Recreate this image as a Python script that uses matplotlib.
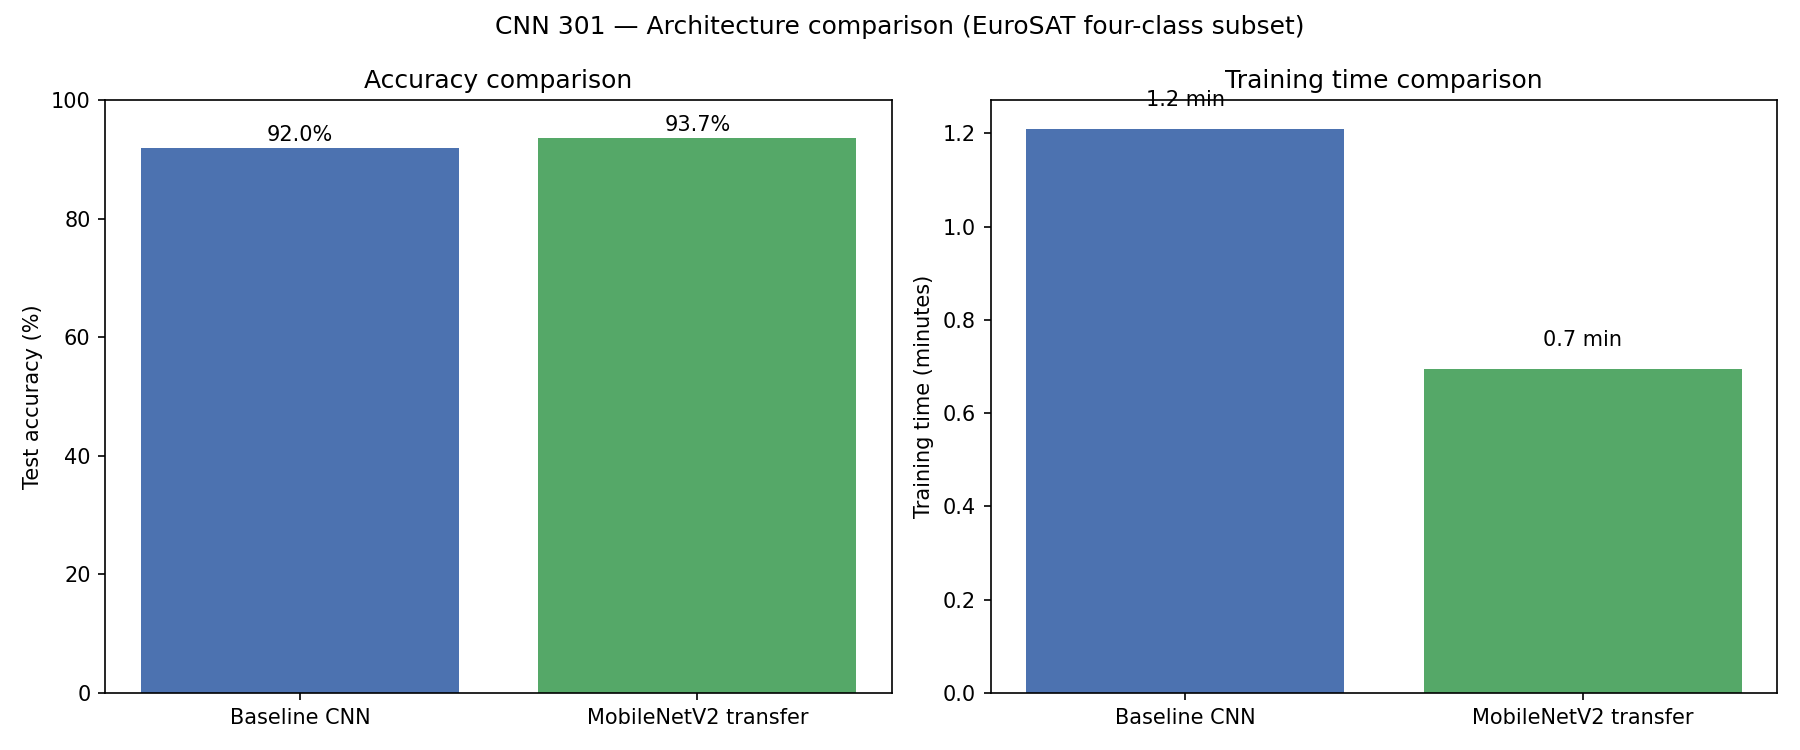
import matplotlib
matplotlib.use("Agg")
import matplotlib.pyplot as plt

# Results from the two runs
models = ["Baseline CNN", "MobileNetV2 transfer"]
accuracy = [92.0, 93.7]
train_minutes = [1.21, 0.695]
colors = ["#4C72B0", "#55A868"]

fig, (ax1, ax2) = plt.subplots(1, 2, figsize=(12, 5), dpi=150)

# Accuracy panel
bars = ax1.bar(models, accuracy, color=colors)
ax1.set_ylim(0, 100)
ax1.set_ylabel("Test accuracy (%)")
ax1.set_title("Accuracy comparison")
for b, v in zip(bars, accuracy):
    ax1.text(b.get_x() + b.get_width() / 2, v + 0.5, f"{v:.1f}%", ha="center", va="bottom")

# Training time panel
bars = ax2.bar(models, train_minutes, color=colors)
ax2.set_ylabel("Training time (minutes)")
ax2.set_title("Training time comparison")
for b, v in zip(bars, train_minutes):
    ax2.text(b.get_x() + b.get_width() / 2, v + 0.04, f"{v:.1f} min", ha="center", va="bottom")

fig.suptitle("CNN 301 — Architecture comparison (EuroSAT four-class subset)")
fig.tight_layout()
fig.savefig("out.png")
